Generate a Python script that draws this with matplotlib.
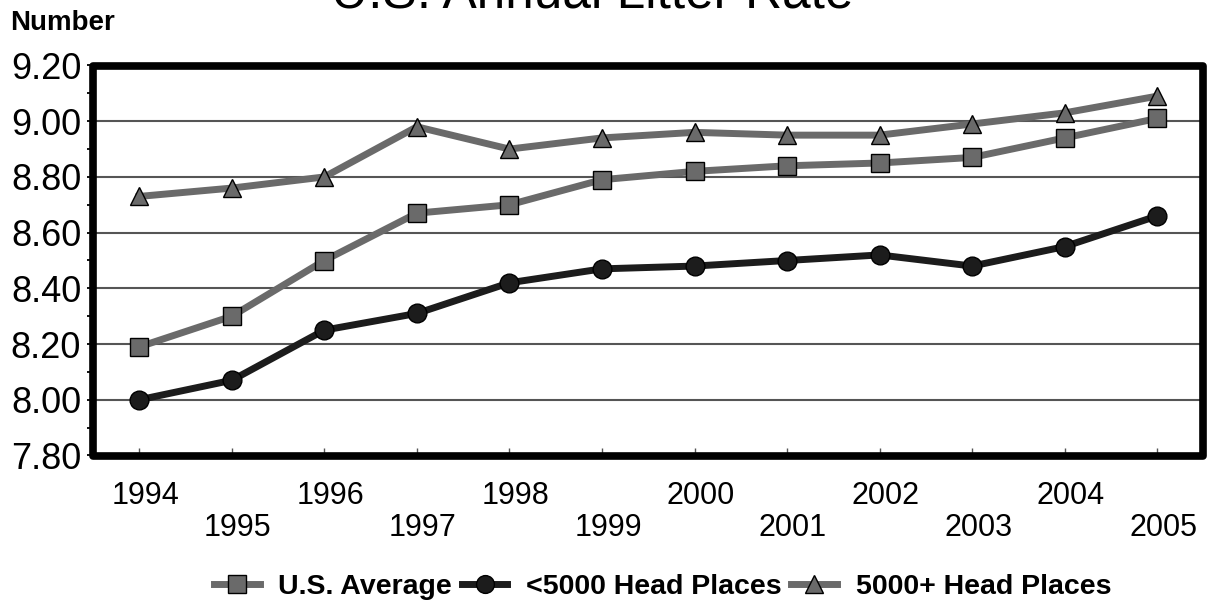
import numpy as np
import matplotlib
matplotlib.use("Agg")
import matplotlib.pyplot as plt
import matplotlib.patches as mpatches
from matplotlib.ticker import MultipleLocator, FormatStrFormatter
import matplotlib.transforms as mtransforms

plt.rcParams['font.family'] = ['Liberation Sans', 'DejaVu Sans']

years = [1994, 1995, 1996, 1997, 1998, 1999, 2000, 2001, 2002, 2003, 2004, 2005]
us_average = [8.19, 8.30, 8.50, 8.67, 8.70, 8.79, 8.82, 8.84, 8.85, 8.87, 8.94, 9.01]
small_farms = [8.00, 8.07, 8.25, 8.31, 8.42, 8.47, 8.48, 8.50, 8.52, 8.48, 8.55, 8.66]
large_farms = [8.73, 8.76, 8.80, 8.98, 8.90, 8.94, 8.96, 8.95, 8.95, 8.99, 9.03, 9.09]

gray = '#6a6a6a'
dark = '#1c1c1c'

fig = plt.figure(figsize=(12.09, 6.09), dpi=100)
ax = fig.add_axes([93/1209, 1 - 455.5/609, (1203.5 - 93)/1209, (455.5 - 65.5)/609])

x = np.arange(len(years))
ax.plot(x, us_average, color=gray, lw=5, marker='s', ms=13.5,
        mfc=gray, mec='black', mew=1, label='U.S. Average', zorder=3)
ax.plot(x, small_farms, color=dark, lw=5, marker='o', ms=13.5,
        mfc=dark, mec='black', mew=1, label='<5000 Head Places', zorder=3)
ax.plot(x, large_farms, color=gray, lw=5, marker='^', ms=13,
        mfc=gray, mec='black', mew=1, label='5000+ Head Places', zorder=3)

ax.set_xlim(-0.5, len(years) - 0.5)
ax.set_ylim(7.8, 9.2)

# gridlines only between the frame edges
for v in np.arange(8.0, 9.01, 0.2):
    ax.axhline(v, color='#555555', lw=1.5, zorder=1)

ax.yaxis.set_major_locator(MultipleLocator(0.2))
ax.yaxis.set_minor_locator(MultipleLocator(0.1))
ax.yaxis.set_major_formatter(FormatStrFormatter('%.2f'))
ax.tick_params(axis='y', which='both', direction='out', length=4.5, width=1.3,
               color='black', pad=4, labelsize=26)

# staggered year labels: odd years on a second row
ax.set_xticks(x)
ax.set_xticklabels([str(y) if i % 2 == 0 else '\n' + str(y) for i, y in enumerate(years)],
                   linespacing=1.1)
ax.tick_params(axis='x', direction='in', length=6, width=1, color='#555555',
               pad=18, labelsize=22)
offset = mtransforms.ScaledTranslation(6/100, 0, fig.dpi_scale_trans)
for lbl in ax.get_xticklabels():
    lbl.set_transform(lbl.get_transform() + offset)

for s in ax.spines.values():
    s.set_visible(False)
frame = mpatches.Rectangle((0, 0), 1, 1, transform=ax.transAxes, fill=False,
                           ec='black', lw=5.5, joinstyle='round', clip_on=False, zorder=5)
ax.add_patch(frame)

fig.text(0.49, 1 - 7/609, 'U.S. Annual Litter Rate', ha='center', va='baseline', fontsize=37)
fig.text(10/1209, 1 - 30/609, 'Number', ha='left', va='baseline', fontsize=20, fontweight='bold')

fig.legend(loc='center', bbox_to_anchor=(0.548, 1 - 587/609), ncol=3, frameon=False,
           prop={'size': 20.5, 'weight': 'bold'}, handlelength=1.6, columnspacing=0.35,
           handletextpad=0.65, markerscale=0.95)

fig.savefig('out.png', dpi=100)
